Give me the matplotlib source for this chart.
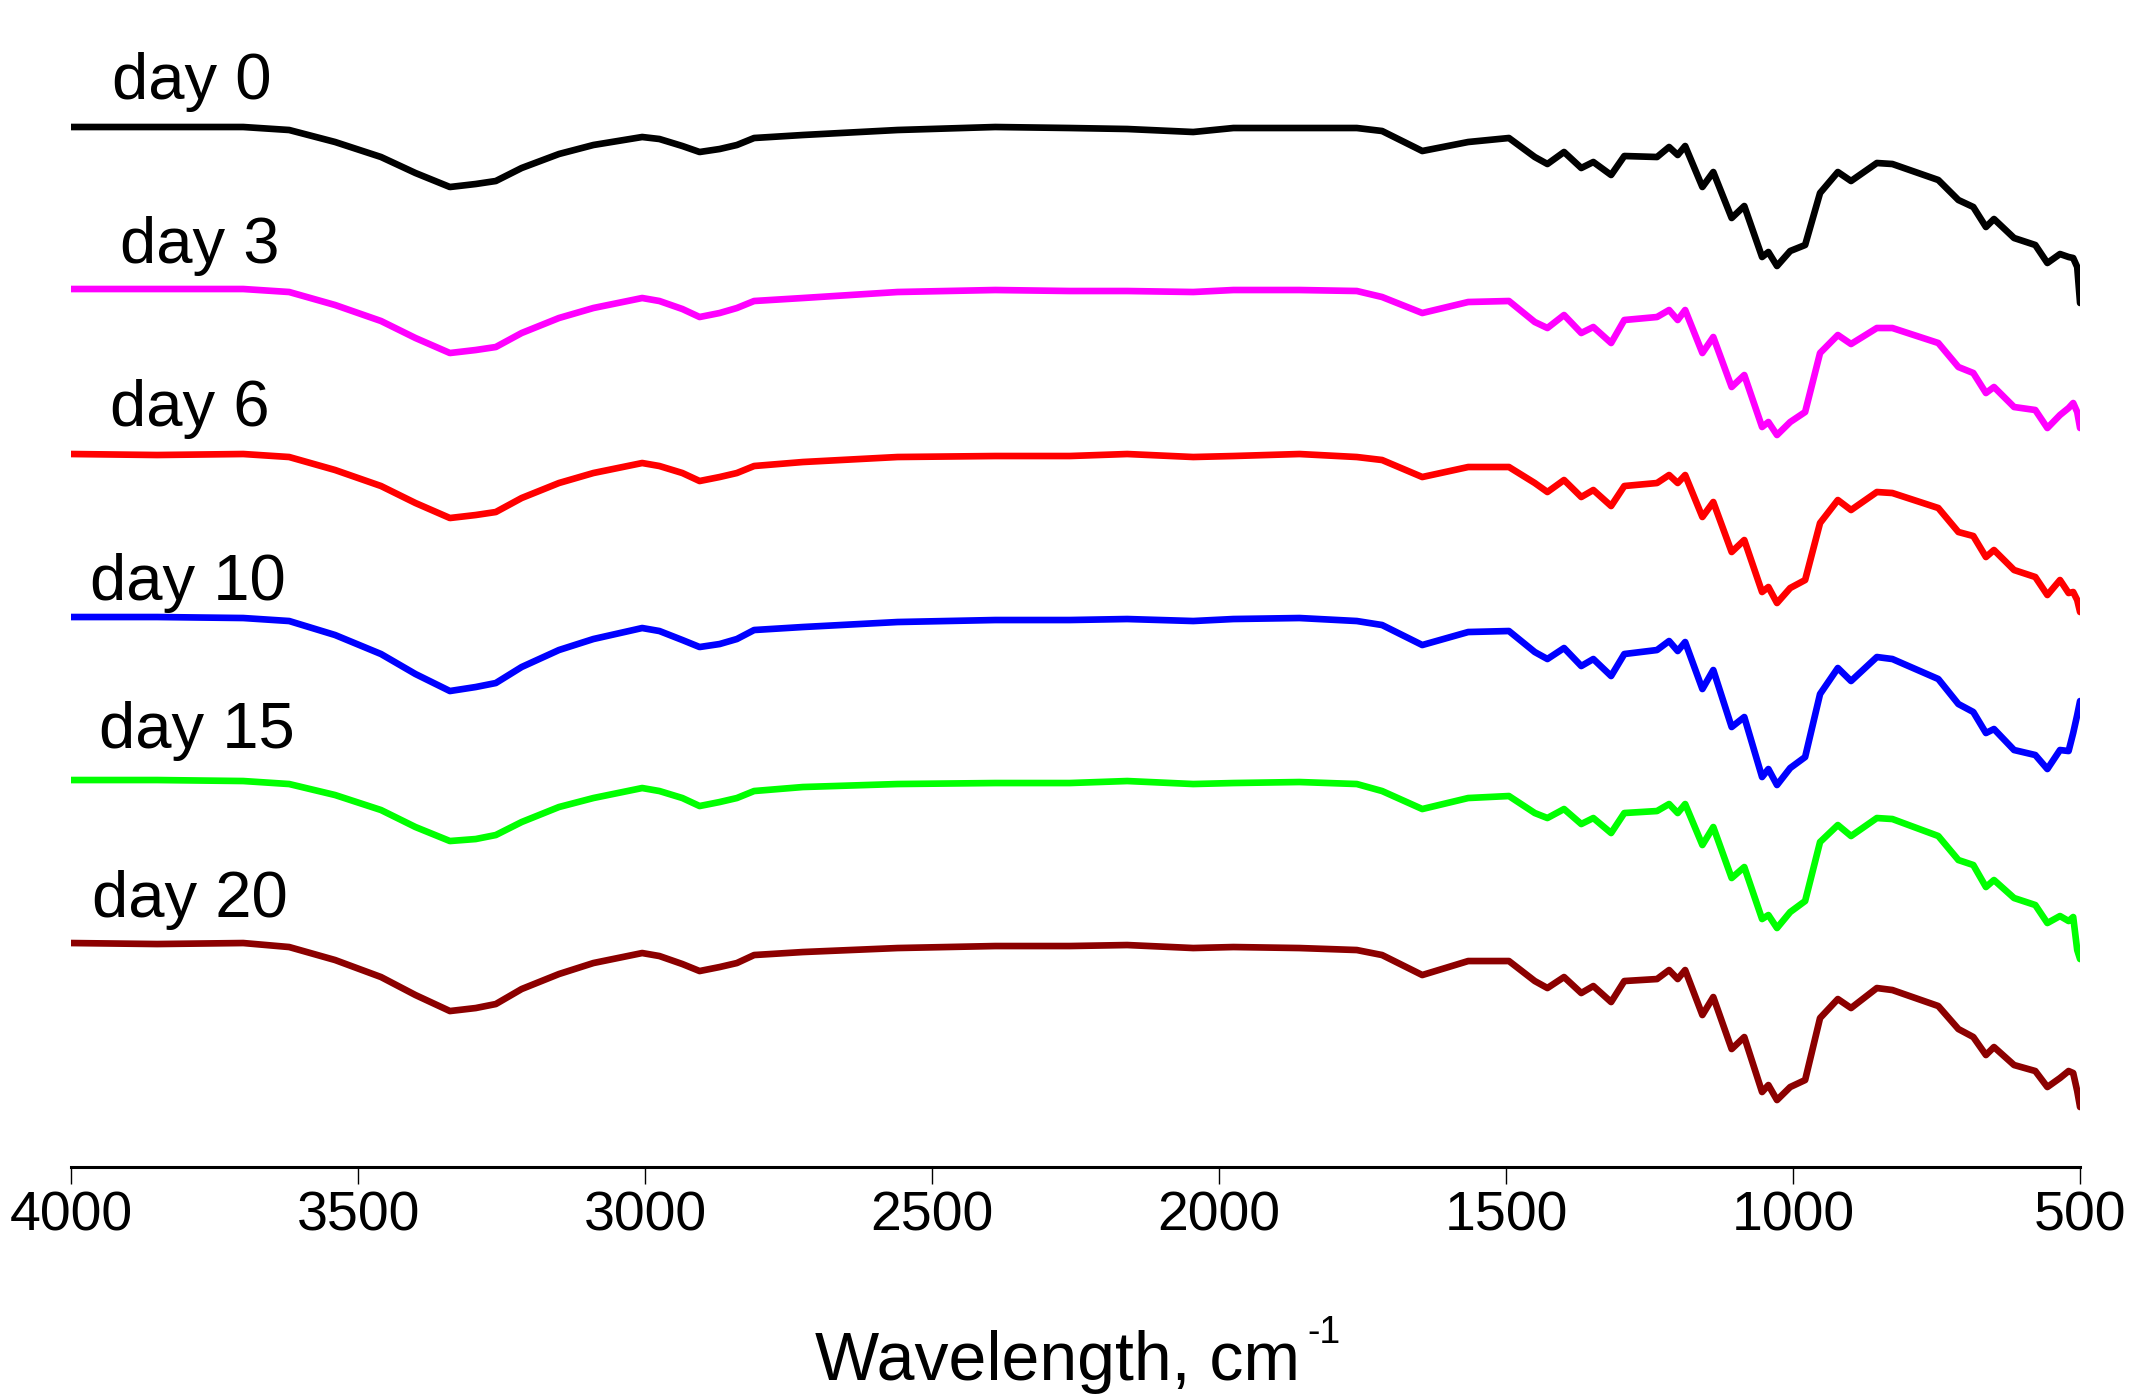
import matplotlib
matplotlib.use("Agg")
import matplotlib.pyplot as plt

plt.rcParams['font.family'] = ['Liberation Sans', 'DejaVu Sans']

# wavenumber grid (cm-1) shared by all spectra
wavenumber = [4000, 3850, 3700, 3620, 3540, 3460, 3400, 3340, 3295, 3260,
              3215, 3150, 3090, 3005, 2975, 2935, 2905, 2870, 2840, 2810,
              2725, 2560, 2390, 2260, 2160, 2045, 1975, 1860, 1760, 1716,
              1646, 1566, 1495, 1450, 1428, 1399, 1369, 1348, 1317, 1294,
              1237, 1216, 1201, 1188, 1158, 1139, 1107, 1085, 1054, 1043,
              1028, 1005, 979, 953, 922, 899, 854, 827, 747, 712,
              686, 664, 650, 615, 578, 557, 535, 520, 512, 505, 500]

# stacked transmittance (a.u., offset per sample)
day0 = [107.3, 107.3, 107.3, 107.0, 105.8, 104.3, 102.7, 101.3, 101.6, 101.9,
        103.2, 104.6, 105.5, 106.3, 106.1, 105.4, 104.8, 105.1, 105.5, 106.2,
        106.5, 107.0, 107.3, 107.2, 107.1, 106.8, 107.2, 107.2, 107.2, 106.9,
        104.9, 105.8, 106.2, 104.3, 103.6, 104.8, 103.2, 103.8, 102.5, 104.4,
        104.3, 105.3, 104.5, 105.4, 101.3, 102.8, 98.2, 99.4, 94.3, 94.8,
        93.4, 94.9, 95.5, 100.7, 102.8, 101.9, 103.7, 103.6, 102.0, 100.0,
        99.3, 97.3, 98.1, 96.2, 95.5, 93.7, 94.6, 94.3, 94.2, 93.3, 89.7]
day3 = [91.1, 91.1, 91.1, 90.8, 89.5, 87.9, 86.2, 84.7, 85.0, 85.3,
        86.7, 88.2, 89.2, 90.2, 89.9, 89.1, 88.3, 88.7, 89.2, 89.9,
        90.2, 90.8, 91.0, 90.9, 90.9, 90.8, 91.0, 91.0, 90.9, 90.3,
        88.7, 89.8, 89.9, 87.8, 87.2, 88.5, 86.7, 87.3, 85.7, 88.0,
        88.3, 89.0, 88.0, 89.0, 84.7, 86.3, 81.3, 82.5, 77.3, 77.8,
        76.5, 77.8, 78.8, 84.7, 86.5, 85.6, 87.2, 87.2, 85.7, 83.3,
        82.7, 80.7, 81.3, 79.3, 79.0, 77.2, 78.5, 79.2, 79.7, 78.8, 77.2]
day6 = [74.6, 74.5, 74.6, 74.3, 73.0, 71.4, 69.7, 68.2, 68.5, 68.8,
        70.2, 71.7, 72.7, 73.7, 73.4, 72.7, 71.9, 72.3, 72.7, 73.4,
        73.8, 74.3, 74.4, 74.4, 74.6, 74.3, 74.4, 74.6, 74.3, 74.0,
        72.3, 73.3, 73.3, 71.7, 70.8, 72.0, 70.3, 71.0, 69.4, 71.4,
        71.7, 72.5, 71.7, 72.5, 68.3, 69.8, 64.8, 66.0, 60.8, 61.3,
        59.7, 61.2, 62.0, 67.7, 70.0, 69.0, 70.8, 70.7, 69.2, 66.8,
        66.4, 64.3, 65.0, 63.0, 62.3, 60.5, 62.0, 60.7, 60.8, 60.0, 58.8]
day10 = [58.3, 58.3, 58.2, 57.9, 56.5, 54.6, 52.6, 50.9, 51.3, 51.7,
         53.3, 55.0, 56.1, 57.2, 56.9, 56.0, 55.3, 55.6, 56.1, 57.0,
         57.3, 57.8, 58.0, 58.0, 58.1, 57.9, 58.1, 58.2, 57.9, 57.5,
         55.5, 56.8, 56.9, 54.8, 54.1, 55.2, 53.4, 54.1, 52.4, 54.6,
         55.0, 55.9, 54.9, 55.8, 51.1, 53.0, 47.3, 48.3, 42.3, 43.1,
         41.5, 43.2, 44.3, 50.6, 53.2, 51.9, 54.3, 54.1, 52.1, 49.6,
         48.8, 46.7, 47.1, 45.0, 44.5, 43.1, 45.0, 44.9, 46.7, 48.5, 49.9]
day15 = [42.0, 42.0, 41.9, 41.6, 40.5, 39.0, 37.3, 35.9, 36.1, 36.5,
         37.8, 39.3, 40.2, 41.2, 40.9, 40.2, 39.4, 39.8, 40.2, 40.9,
         41.3, 41.6, 41.7, 41.7, 41.9, 41.6, 41.7, 41.8, 41.6, 40.9,
         39.1, 40.2, 40.4, 38.7, 38.2, 39.1, 37.6, 38.2, 36.7, 38.7,
         38.9, 39.6, 38.7, 39.6, 35.5, 37.3, 32.2, 33.3, 28.1, 28.5,
         27.2, 28.8, 29.9, 35.8, 37.5, 36.4, 38.2, 38.1, 36.4, 34.0,
         33.5, 31.3, 32.0, 30.2, 29.5, 27.7, 28.4, 27.9, 28.3, 25.0, 24.1]
day20 = [25.7, 25.6, 25.7, 25.3, 24.0, 22.3, 20.5, 18.9, 19.2, 19.6,
         21.1, 22.6, 23.7, 24.7, 24.4, 23.6, 22.9, 23.3, 23.7, 24.5,
         24.8, 25.2, 25.4, 25.4, 25.5, 25.2, 25.3, 25.2, 25.0, 24.5,
         22.5, 23.9, 23.9, 21.9, 21.2, 22.3, 20.7, 21.4, 19.8, 21.9,
         22.1, 23.0, 22.1, 23.0, 18.5, 20.3, 15.1, 16.3, 10.8, 11.5,
         10.0, 11.3, 12.0, 18.2, 20.1, 19.2, 21.2, 21.0, 19.4, 17.1,
         16.3, 14.5, 15.3, 13.5, 12.9, 11.3, 12.2, 12.9, 12.7, 10.9, 9.3]

labels = ['day 0', 'day 3', 'day 6', 'day 10', 'day 15', 'day 20']
series = [day0, day3, day6, day10, day15, day20]
colors = ['black', '#ff00ff', '#ff0000', '#0000ff', '#00ff00', '#8c0000']
label_x = [3929, 3914, 3933, 3967, 3952, 3964]
label_y = [110.1, 93.7, 77.4, 60.0, 45.2, 28.3]

fig = plt.figure(figsize=(21.4, 13.99), dpi=100)
ax = fig.add_axes([0.0332, 0.1658, 0.9388, 0.8342])

for y, c in zip(series, colors):
    ax.plot(wavenumber, y, color=c, linewidth=4.8,
            solid_joinstyle='round', solid_capstyle='round')

for name, tx, ty in zip(labels, label_x, label_y):
    ax.text(tx, ty, name, fontsize=47, ha='left', va='baseline')

ax.set_xlim(4000, 500)
ax.set_ylim(3.3, 120)
ax.set_xticks([4000, 3500, 3000, 2500, 2000, 1500, 1000, 500])
ax.set_yticks([])
for s in ['top', 'right', 'left']:
    ax.spines[s].set_visible(False)
ax.spines['bottom'].set_linewidth(2.2)
ax.tick_params(axis='x', direction='out', length=12, width=1, labelsize=40, pad=5)
ax.set_xlabel('Wavelength, cm', fontsize=49, labelpad=63)
ax.xaxis.label.set_x(0.491)
# superscript -1 after the axis label
ax.annotate('-1', xy=(1, 1), xycoords=ax.xaxis.label, xytext=(5, 11),
            textcoords='offset points', fontsize=27, ha='left', va='top')

fig.savefig('out.png', dpi=100)
